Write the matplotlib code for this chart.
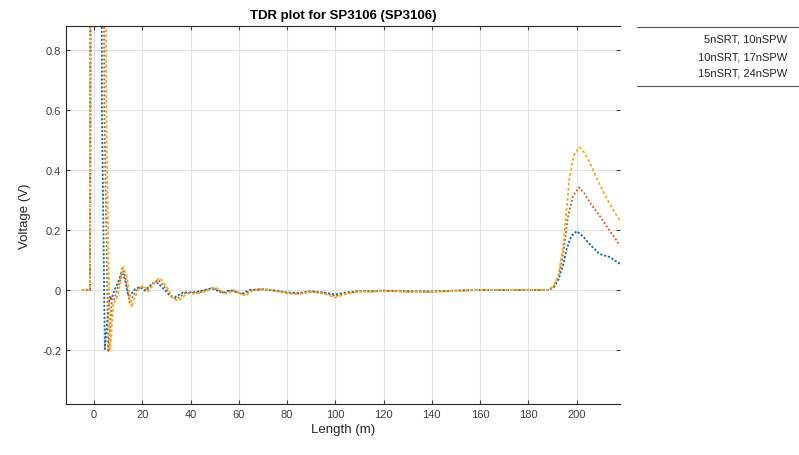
#!/usr/bin/env python3
"""TDR plot for SP3106 - three pulse settings, voltage vs cable length."""

import matplotlib
matplotlib.use("Agg")
import matplotlib.pyplot as plt
from matplotlib.lines import Line2D
from matplotlib.ticker import FuncFormatter

# ============================================
# DATA
# ============================================

labels = ["5nSRT, 10nSPW", "10nSRT, 17nSPW", "15nSRT, 24nSPW"]

# 5nSRT, 10nSPW
blue_len = [-5, -1.6, -1.4, 3.0, 3.3, 4.5, 5.3, 6.6, 7.2, 8.7, 10.0, 11.5, 12.8,
            14.2, 15.5, 17.0, 19.0, 21.0, 24.0, 26.0, 29.0, 31.5, 33.5, 37.0,
            41.0, 45.0, 48.7, 53.5, 56.3, 61.2, 64.6, 70, 75, 80, 85, 90, 95,
            100, 105, 110, 115, 120, 130, 140, 150, 160, 170, 180, 188, 190.5,
            192.5, 194.5, 196.0, 197.8, 200.1, 202.5, 205.4, 209.5, 213.7, 218]
blue_v = [0, 0, 1.5, 1.5, 0.6, -0.197, -0.12, -0.02, -0.03, 0.003, 0.026, 0.06,
          0.037, -0.02, -0.012, 0.003, 0.01, -0.002, 0.02, 0.026, 0.003, -0.019,
          -0.024, -0.008, -0.008, -0.002, 0.006, -0.01, 0.0, -0.013, 0.0, 0.002,
          -0.002, -0.008, -0.01, -0.004, -0.008, -0.015, -0.008, -0.003, -0.004,
          -0.002, -0.004, -0.005, -0.002, 0.0, 0.0, 0.0, 0.0, 0.008, 0.035,
          0.085, 0.14, 0.18, 0.196, 0.18, 0.153, 0.12, 0.11, 0.087]

# 10nSRT, 17nSPW
red_len = [-5, -1.6, -1.4, 4.0, 4.3, 5.9, 6.6, 7.4, 8.2, 9.6, 10.8, 11.7, 13.0,
           14.8, 16.2, 17.8, 19.8, 21.8, 24.8, 26.8, 29.8, 32.3, 34.3, 37.8,
           41.8, 45.8, 49.5, 54.3, 57.1, 62.0, 65.4, 70, 75, 80, 85, 90, 95,
           100, 105, 110, 115, 120, 130, 140, 150, 160, 170, 180, 188, 190.5,
           192.5, 194.5, 196.4, 198.5, 201.0, 203.0, 205.4, 209.5, 213.7, 218]
red_v = [0, 0, 1.5, 1.5, 0.6, -0.207, -0.14, -0.03, -0.035, 0.0, 0.03, 0.073,
         0.045, -0.045, -0.02, 0.003, 0.012, -0.004, 0.026, 0.033, 0.005, -0.024,
         -0.03, -0.01, -0.01, -0.003, 0.008, -0.012, 0.0, -0.016, 0.0, 0.003,
         -0.002, -0.01, -0.012, -0.005, -0.01, -0.02, -0.01, -0.004, -0.005,
         -0.003, -0.005, -0.006, -0.002, 0.0, 0.0, 0.0, 0.0, 0.01, 0.045, 0.12,
         0.243, 0.314, 0.342, 0.325, 0.293, 0.248, 0.198, 0.148]

# 15nSRT, 24nSPW
yellow_len = [-5, -1.6, -1.4, 4.8, 5.1, 6.6, 7.2, 8.0, 8.8, 10.2, 11.3, 12.1,
              13.5, 15.6, 17.0, 18.5, 20.5, 22.5, 25.5, 27.5, 30.5, 33.0, 35.0,
              38.5, 42.5, 46.5, 50.0, 55.0, 58.0, 62.7, 66.0, 70, 75, 80, 85,
              90, 95, 100, 105, 110, 115, 120, 130, 140, 150, 160, 170, 180,
              188, 190.5, 192.5, 194.5, 197.0, 198.8, 201.2, 203.0, 205.4,
              209.5, 213.7, 218]
yellow_v = [0, 0, 1.5, 1.5, 0.6, -0.2, -0.15, -0.04, -0.04, -0.005, 0.035, 0.076,
            0.05, -0.058, -0.025, 0.004, 0.015, -0.005, 0.03, 0.04, 0.006, -0.03,
            -0.036, -0.012, -0.012, -0.004, 0.01, -0.014, 0.0, -0.02, 0.0, 0.004,
            -0.003, -0.012, -0.014, -0.006, -0.012, -0.025, -0.012, -0.005,
            -0.006, -0.003, -0.006, -0.007, -0.003, 0.0, 0.0, 0.0, 0.0, 0.012,
            0.05, 0.15, 0.37, 0.448, 0.476, 0.46, 0.426, 0.353, 0.287, 0.231]

x_ticks = [0, 20, 40, 60, 80, 100, 120, 140, 160, 180, 200]
y_ticks = [-0.2, 0, 0.2, 0.4, 0.6, 0.8]

# MATLAB default colour order
colors = ["#0072BD", "#D95319", "#EDB120"]
styles = [(0, (1.2, 1.0)), (0, (1.0, 1.2)), (0, (1.6, 1.2))]


def main():
    plt.rcParams["font.family"] = ["Liberation Sans", "DejaVu Sans"]

    fig = plt.figure(figsize=(7.99, 4.56), dpi=100)
    W, H = 799, 456
    ax = fig.add_axes([66 / W, 1 - 405 / H, (620 - 66) / W, (405 - 27) / H])

    series = [(blue_len, blue_v), (red_len, red_v), (yellow_len, yellow_v)]
    for (xs, ys), c, ls, lab in zip(series, colors, styles, labels):
        ax.plot(xs, ys, color=c, linestyle=ls, linewidth=1.3, label=lab)

    ax.set_xlim(-11.6, 218)
    ax.set_ylim(-0.38, 0.88)
    ax.set_xticks(x_ticks)
    ax.set_yticks(y_ticks)
    ax.yaxis.set_major_formatter(FuncFormatter(lambda v, p: f"{v:g}"))
    ax.tick_params(direction="in", length=3, width=0.8, labelsize=8,
                   colors="#404040", top=True, right=True)
    ax.grid(True, color="#e3e3e3", linewidth=0.8)
    ax.set_axisbelow(True)
    for side in ["left", "bottom", "top"]:
        ax.spines[side].set_color("#262626")
        ax.spines[side].set_linewidth(0.8)
    ax.spines["right"].set_visible(False)

    ax.set_xlabel("Length (m)", fontsize=9.5, color="#262626", labelpad=3)
    ax.set_ylabel("Voltage (V)", fontsize=9.5, color="#262626", labelpad=8)
    ax.set_title("TDR plot for SP3106 (SP3106)", fontsize=9.5,
                 fontweight="bold", color="#000000", pad=6)

    # legend outside on the right: two rules and right-aligned entries
    for y in (28, 87):
        fig.add_artist(Line2D([637 / W, 1.0], [1 - y / H, 1 - y / H],
                              color="#555555", linewidth=0.8))
    for i, lab in enumerate(labels):
        fig.text(787 / W, 1 - (40 + 17 * i) / H, lab, ha="right", va="center",
                 fontsize=8, color="#262626")

    fig.savefig("out.png", dpi=100)


if __name__ == "__main__":
    main()
